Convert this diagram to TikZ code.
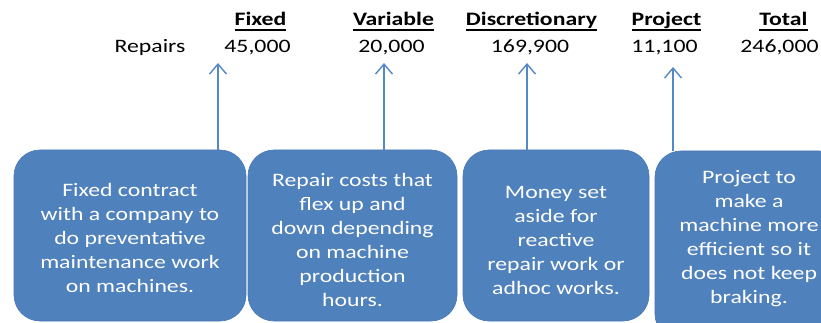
\documentclass[tikz,border=0pt]{standalone}
\usepackage{fontspec}
\setmainfont{Carlito}[FakeStretch=1.25]
\usetikzlibrary{arrows.meta}
\definecolor{boxblue}{HTML}{4F81BD}
\definecolor{boxedge}{HTML}{4878B4}
\definecolor{arrowblue}{HTML}{5588C6}
\begin{document}
\begin{tikzpicture}[x=1pt,y=-1pt,
  every node/.style={font=\fontsize{19}{24}\selectfont, inner sep=0pt, outer sep=0pt},
  head/.style={font=\fontsize{19}{24}\selectfont\bfseries, anchor=base},
  num/.style={anchor=base},
  note/.style={draw=boxedge, fill=boxblue, rounded corners=26pt, line width=0.6pt},
  notetext/.style={text=white, align=center},
  pointer/.style={draw=arrowblue, line width=1.4pt,
    -{Straight Barb[length=10pt,width=17pt,line width=1.4pt]}},
  headline/.style={line width=1.6pt}]
\useasboundingbox (0,0) rectangle (821,323);
\clip (0,0) rectangle (821,323);

% column headings
\node[head] (hfix) at (260.5,26) {Fixed};
\node[head] (hvar) at (393.5,26) {Variable};
\node[head] (hdis) at (531.5,26) {Discretionary};
\node[head] (hpro) at (666.5,26) {Project};
\node[head] (htot) at (783.5,26) {Total};
\foreach \h in {hfix,hvar,hdis,hpro,htot}
  \draw[headline] ([yshift=-4pt]\h.base west) -- ([yshift=-4pt]\h.base east);

% figures row
\node[num] (lab) at (150,53) {Repairs};
\node[num] (nfix) at (257.5,53) {45,000};
\node[num] (nvar) at (391.5,53) {20,000};
\node[num] (ndis) at (530,53) {169,900};
\node[num] (npro) at (664.5,53) {11,100};
\node[num] (ntot) at (779.5,53) {246,000};

% explanation boxes
\node[note, minimum width=232pt, minimum height=171pt] (b1) at (130,235.5) {};
\node[note, minimum width=209pt, minimum height=171pt] (b2) at (352.5,235.5) {};
\node[note, minimum width=186pt, minimum height=171pt] (b3) at (556,235.5) {};
\node[note, minimum width=190pt, minimum height=189pt] (b4) at (750,245.5) {};

\node[notetext] (t1) at (130,238) {Fixed contract\\with a company to\\do preventative\\maintenance work\\on machines.};
\node[notetext] (t2) at (352.5,239.5) {Repair costs that\\flex up and\\down depending\\on machine\\production\\hours.};
\node[notetext] (t3) at (556,240) {Money set\\aside for\\reactive\\repair work or\\adhoc works.};
\node[notetext] (t4) at (749,239) {Project to\\make a\\machine more\\efficient so it\\does not keep\\braking.};

% pointers from each box up to its figure
\coordinate (a1) at (218,63);
\coordinate (a2) at (384,63);
\coordinate (a3) at (527,63);
\coordinate (a4) at (673,67);
\draw[pointer] (a1 |- b1.north) -- (a1);
\draw[pointer] (a2 |- b2.north) -- (a2);
\draw[pointer] (a3 |- b3.north) -- (a3);
\draw[pointer] (a4 |- b4.north) -- (a4);
\end{tikzpicture}
\end{document}
